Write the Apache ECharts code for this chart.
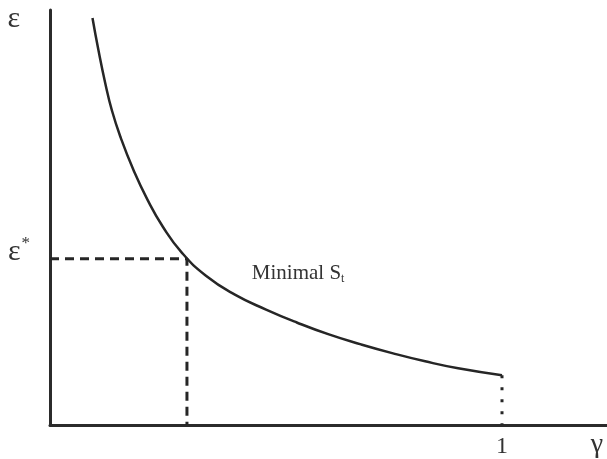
<!DOCTYPE html>
<html>
<head>
<meta charset="utf-8">
<script src="https://cdn.jsdelivr.net/npm/echarts@6/dist/echarts.min.js"></script>
<style>html,body{margin:0;padding:0;background:#fff}#c{width:607px;height:459px}</style>
</head>
<body>
<div id="c"></div>
<script>
// Curve "Minimal S_t": gamma (x) and epsilon (y) values
const gammaVals = [0.094, 0.107, 0.122, 0.137, 0.157, 0.184, 0.215, 0.250, 0.292, 0.345, 0.409, 0.478, 0.546, 0.617, 0.688, 0.759, 0.830, 0.903, 1.0];
const epsVals   = [4.09, 3.77, 3.44, 3.16, 2.88, 2.57, 2.27, 1.99, 1.73, 1.50, 1.31, 1.16, 1.03, 0.91, 0.81, 0.72, 0.64, 0.57, 0.50];
// Reference point (gamma*, epsilon*)
const gammaStar = 0.303;
const epsStar = 1.67;
// End point at gamma = 1
const gammaEnd = 1.0;
const epsEnd = 0.50;
// Tick labels
const xTickValues = [1];
const xTickLabels = ['1'];
const yTickValues = [epsStar];
const curveLabel = 'Minimal S';
const curveLabelSub = 't';
const curveLabelPos = [0.549, 1.52];

const curveData = gammaVals.map((g, i) => [g, epsVals[i]]);
const dashedData = [[0, epsStar], [gammaStar, epsStar], [gammaStar, 0]];
const dottedData = [[gammaEnd, epsEnd], [gammaEnd, 0]];

const serif = '"Liberation Serif", "DejaVu Serif", serif';
const chart = echarts.init(document.getElementById('c'));
chart.setOption({
  animation: false,
  backgroundColor: '#fff',
  grid: { left: 50, right: 0, top: 10, bottom: 32, containLabel: false },
  xAxis: {
    type: 'value', min: 0, max: 1.2323,
    axisLine: { show: true, onZero: false, lineStyle: { color: '#2b2b2b', width: 3 } },
    axisTick: { show: false },
    splitLine: { show: false },
    axisLabel: {
      customValues: xTickValues,
      formatter: v => xTickLabels[xTickValues.indexOf(v)] ?? '',
      fontFamily: serif, fontSize: 24, color: '#333', margin: 10
    },
    name: 'γ', nameLocation: 'end', nameGap: 0,
    nameTextStyle: { fontFamily: serif, fontSize: 28, color: '#333', align: 'right', verticalAlign: 'top', padding: [6, 4, 0, 0] }
  },
  yAxis: {
    type: 'value', min: 0, max: 4.17,
    axisLine: { show: true, onZero: false, lineStyle: { color: '#2b2b2b', width: 3 } },
    axisTick: { show: false },
    splitLine: { show: false },
    axisLabel: {
      customValues: yTickValues,
      formatter: () => '{e|ε}{s|*}',
      margin: 20,
      padding: [0, 0, 14, 0],
      rich: {
        e: { fontFamily: serif, fontSize: 30, color: '#333' },
        s: { fontFamily: serif, fontSize: 17, color: '#333', verticalAlign: 'top', padding: [0, 0, 16, 1] }
      }
    },
    name: 'ε', nameLocation: 'end', nameGap: 0,
    nameTextStyle: { fontFamily: serif, fontSize: 30, color: '#333', align: 'right', verticalAlign: 'top', padding: [-6, 30, 0, 0] }
  },
  series: [
    {
      type: 'line', data: curveData, smooth: 0.5, symbol: 'none',
      lineStyle: { color: '#262626', width: 2.5 },
      markPoint: {
        symbol: 'circle', symbolSize: 1,
        itemStyle: { color: 'rgba(0,0,0,0)' },
        data: [{ coord: curveLabelPos, value: 0 }],
        label: {
          show: true, position: 'inside',
          formatter: '{m|' + curveLabel + '}{t|' + curveLabelSub + '}',
          rich: {
            m: { fontFamily: serif, fontSize: 21, color: '#333' },
            t: { fontFamily: serif, fontSize: 12, color: '#333', verticalAlign: 'bottom', padding: [10, 0, 0, 0] }
          }
        }
      }
    },
    {
      type: 'line', data: dashedData, symbol: 'none',
      lineStyle: { color: '#262626', width: 3, type: [9, 6] }
    },
    {
      type: 'line', data: dottedData, symbol: 'none',
      lineStyle: { color: '#262626', width: 3, type: [3, 9] }
    }
  ]
});
</script>
</body>
</html>
